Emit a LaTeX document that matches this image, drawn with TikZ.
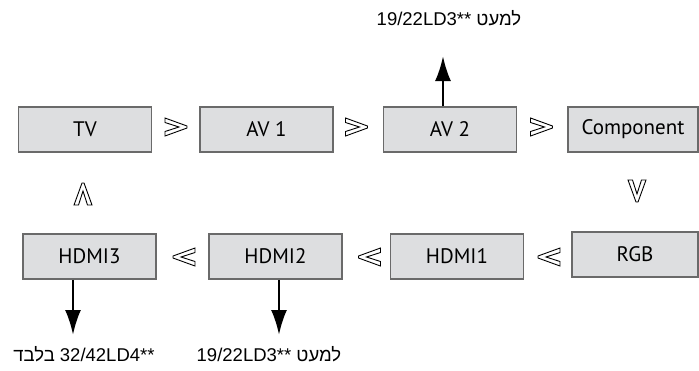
\documentclass[tikz,border=0pt]{standalone}
\usepackage{fontspec}
\setmainfont{PT Sans}
\newfontfamily\hebfont[Script=Hebrew]{Liberation Sans}
\TeXXeTstate=1
\usetikzlibrary{arrows.meta,positioning}
\definecolor{boxfill}{HTML}{DDDEE0}
\definecolor{boxline}{HTML}{6A6A6A}
\tikzset{
  box/.style={draw=boxline, fill=boxfill, line width=1.5pt, minimum width=133pt, minimum height=45pt, inner sep=0pt, align=center, font=\fontsize{21}{25}\selectfont},
  note/.style={inner sep=0pt, font=\hebfont\fontsize{18.5}{22}\selectfont},
  arrow/.style={-{Latex[length=25pt,width=16pt]}, line width=2.6pt},
  chev/.pic={\draw[line width=0.9pt, fill=white] (-11,9) -- (11,1) -- (11,-1) -- (-11,-9) -- (-11,-4.5) -- (3,0) -- (-11,4.5) -- cycle;}
}
\begin{document}
\begin{tikzpicture}[x=1pt, y=-1pt]
\useasboundingbox (0,0) rectangle (699,370);
% top row
\node[box] (tv) at (85,129.5) {TV};
\node[box] (av1) at (266.5,129.5) {AV 1};
\node[box] (av2) at (450,129.5) {AV 2};
\node[box, minimum width=130pt] (comp) at (633,129.5) {Component};
% bottom row
\node[box] (hdmi3) at (89.5,256.5) {HDMI3};
\node[box] (hdmi2) at (275.5,256.5) {HDMI2};
\node[box] (hdmi1) at (457,256.5) {HDMI1};
\node[box, minimum width=126pt] (rgb) at (635,254.5) {RGB};
% order marks
\pic at (176,127) {chev};
\pic at (356.5,127) {chev};
\pic at (541.5,127) {chev};
\pic[rotate=-90] at (637,191) {chev};
\pic[rotate=180] at (549,257) {chev};
\pic[rotate=180] at (369.5,257) {chev};
\pic[rotate=180] at (184,257) {chev};
\pic[rotate=90] at (83,194) {chev};
% notes
\node[note] (ntop) at (449,18) {\beginR למעט \beginL19/22LD3**\endL\endR};
\node[note] (nleft) at (84,354) {\beginR\beginL32/42LD4**\endL{} בלבד\endR};
\node[note] (nmid) at (269,354) {\beginR למעט \beginL19/22LD3**\endL\endR};
\coordinate (uptip) at (443,56);
\coordinate (lefttip) at (73,335);
\coordinate (midtip) at (279,335);
\draw[arrow] (av2.north -| uptip) -- (uptip);
\draw[arrow] (hdmi3.south -| lefttip) -- (lefttip);
\draw[arrow] (hdmi2.south -| midtip) -- (midtip);
\end{tikzpicture}
\end{document}
